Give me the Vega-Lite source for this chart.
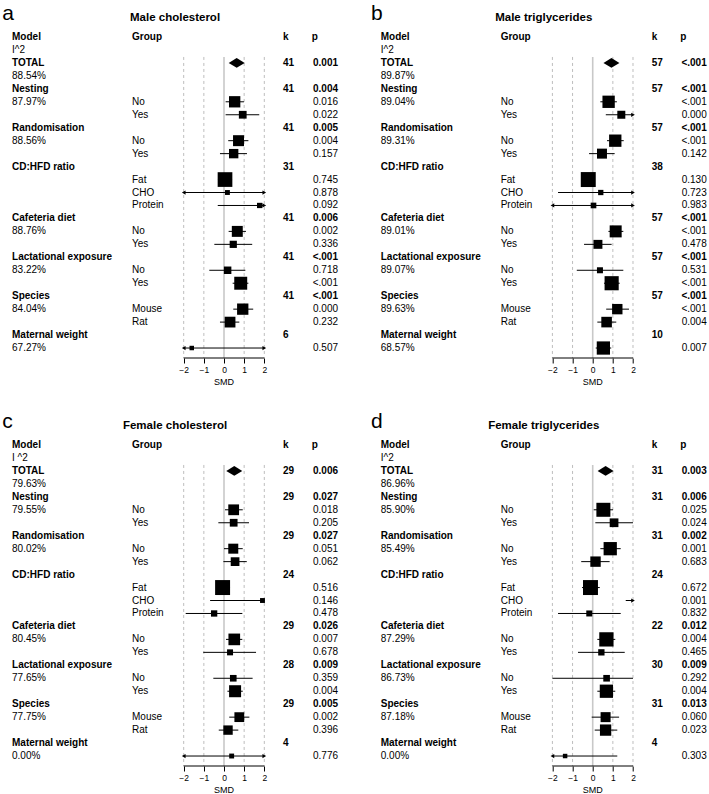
{
  "$schema": "https://vega.github.io/schema/vega-lite/v6.json",
  "padding": 0,
  "data": {"values": [
    {"panel":"a","type":"head","row":0,"model":"Model","group":"Group","k":"k","p":"p","letter":"a","title":"Male cholesterol"},
    {"panel":"a","type":"i2h","row":1,"i2":"I^2"},
    {"panel":"a","type":"total","row":2,"model":"TOTAL","k":"41","p":"0.001","est":0.63,"lo":0.21,"hi":1.04},
    {"panel":"a","type":"i2","row":3,"i2":"88.54%"},
    {"panel":"a","type":"mod","row":4,"model":"Nesting","k":"41","p":"0.004"},
    {"panel":"a","type":"level","row":5,"i2":"87.97%","group":"No","p":"0.016","est":0.53,"lo":0.08,"hi":0.99,"w":32},
    {"panel":"a","type":"level","row":6,"group":"Yes","p":"0.022","est":0.93,"lo":0.08,"hi":1.75,"w":15},
    {"panel":"a","type":"mod","row":7,"model":"Randomisation","k":"41","p":"0.005"},
    {"panel":"a","type":"level","row":8,"i2":"88.56%","group":"No","p":"0.004","est":0.72,"lo":0.21,"hi":1.21,"w":30},
    {"panel":"a","type":"level","row":9,"group":"Yes","p":"0.157","est":0.48,"lo":-0.2,"hi":1.14,"w":22},
    {"panel":"a","type":"mod","row":10,"model":"CD:HFD ratio","k":"31"},
    {"panel":"a","type":"level","row":11,"group":"Fat","p":"0.745","est":0.05,"lo":-0.3,"hi":0.4,"w":54},
    {"panel":"a","type":"level","row":12,"group":"CHO","p":"0.878","est":0.17,"lo":-2,"hi":2,"loOff":true,"hiOff":true,"w":6},
    {"panel":"a","type":"level","row":13,"group":"Protein","p":"0.092","est":1.77,"lo":-0.31,"hi":2,"hiOff":true,"w":7},
    {"panel":"a","type":"mod","row":14,"model":"Cafeteria diet","k":"41","p":"0.006"},
    {"panel":"a","type":"level","row":15,"i2":"88.76%","group":"No","p":"0.002","est":0.66,"lo":0.23,"hi":1.09,"w":30},
    {"panel":"a","type":"level","row":16,"group":"Yes","p":"0.336","est":0.46,"lo":-0.48,"hi":1.4,"w":13},
    {"panel":"a","type":"mod","row":17,"model":"Lactational exposure","k":"41","p":"<.001"},
    {"panel":"a","type":"level","row":18,"i2":"83.22%","group":"No","p":"0.718","est":0.18,"lo":-0.73,"hi":1.06,"w":14},
    {"panel":"a","type":"level","row":19,"group":"Yes","p":"<.001","est":0.83,"lo":0.43,"hi":1.21,"w":42},
    {"panel":"a","type":"mod","row":20,"model":"Species","k":"41","p":"<.001"},
    {"panel":"a","type":"level","row":21,"i2":"84.04%","group":"Mouse","p":"0.000","est":0.93,"lo":0.46,"hi":1.45,"w":32},
    {"panel":"a","type":"level","row":22,"group":"Rat","p":"0.232","est":0.3,"lo":-0.2,"hi":0.76,"w":29},
    {"panel":"a","type":"mod","row":23,"model":"Maternal weight","k":"6"},
    {"panel":"a","type":"level","row":24,"i2":"67.27%","p":"0.507","est":-1.6,"lo":-2,"hi":2,"loOff":true,"hiOff":true,"w":5},

    {"panel":"b","type":"head","row":0,"model":"Model","group":"Group","k":"k","p":"p","letter":"b","title":"Male triglycerides"},
    {"panel":"b","type":"i2h","row":1,"i2":"I^2"},
    {"panel":"b","type":"total","row":2,"model":"TOTAL","k":"57","p":"<.001","est":0.93,"lo":0.55,"hi":1.31},
    {"panel":"b","type":"i2","row":3,"i2":"89.87%"},
    {"panel":"b","type":"mod","row":4,"model":"Nesting","k":"57","p":"<.001"},
    {"panel":"b","type":"level","row":5,"i2":"89.04%","group":"No","p":"<.001","est":0.79,"lo":0.38,"hi":1.2,"w":38},
    {"panel":"b","type":"level","row":6,"group":"Yes","p":"0.000","est":1.42,"lo":0.65,"hi":2,"hiOff":true,"w":16},
    {"panel":"b","type":"mod","row":7,"model":"Randomisation","k":"57","p":"<.001"},
    {"panel":"b","type":"level","row":8,"i2":"89.31%","group":"No","p":"<.001","est":1.12,"lo":0.71,"hi":1.54,"w":38},
    {"panel":"b","type":"level","row":9,"group":"Yes","p":"0.142","est":0.46,"lo":-0.18,"hi":1.09,"w":25},
    {"panel":"b","type":"mod","row":10,"model":"CD:HFD ratio","k":"38"},
    {"panel":"b","type":"level","row":11,"group":"Fat","p":"0.130","est":-0.22,"lo":-0.5,"hi":0.1,"w":56},
    {"panel":"b","type":"level","row":12,"group":"CHO","p":"0.723","est":0.4,"lo":-1.72,"hi":2,"hiOff":true,"w":7},
    {"panel":"b","type":"level","row":13,"group":"Protein","p":"0.983","est":0.04,"lo":-2,"hi":2,"loOff":true,"hiOff":true,"w":8},
    {"panel":"b","type":"mod","row":14,"model":"Cafeteria diet","k":"57","p":"<.001"},
    {"panel":"b","type":"level","row":15,"i2":"89.01%","group":"No","p":"<.001","est":1.14,"lo":0.78,"hi":1.52,"w":36},
    {"panel":"b","type":"level","row":16,"group":"Yes","p":"0.478","est":0.26,"lo":-0.43,"hi":0.94,"w":20},
    {"panel":"b","type":"mod","row":17,"model":"Lactational exposure","k":"57","p":"<.001"},
    {"panel":"b","type":"level","row":18,"i2":"89.07%","group":"No","p":"0.531","est":0.36,"lo":-0.79,"hi":1.52,"w":9},
    {"panel":"b","type":"level","row":19,"group":"Yes","p":"<.001","est":0.94,"lo":0.56,"hi":1.34,"w":50},
    {"panel":"b","type":"mod","row":20,"model":"Species","k":"57","p":"<.001"},
    {"panel":"b","type":"level","row":21,"i2":"89.63%","group":"Mouse","p":"<.001","est":1.22,"lo":0.67,"hi":1.8,"w":27},
    {"panel":"b","type":"level","row":22,"group":"Rat","p":"0.004","est":0.69,"lo":0.23,"hi":1.17,"w":28},
    {"panel":"b","type":"mod","row":23,"model":"Maternal weight","k":"10"},
    {"panel":"b","type":"level","row":24,"i2":"68.57%","p":"0.007","est":0.53,"lo":0.15,"hi":0.92,"w":44},

    {"panel":"c","type":"head","row":0,"model":"Model","group":"Group","k":"k","p":"p","letter":"c","title":"Female cholesterol"},
    {"panel":"c","type":"i2h","row":1,"i2":"I ^2"},
    {"panel":"c","type":"total","row":2,"model":"TOTAL","k":"29","p":"0.006","est":0.51,"lo":0.13,"hi":0.88},
    {"panel":"c","type":"i2","row":3,"i2":"79.63%"},
    {"panel":"c","type":"mod","row":4,"model":"Nesting","k":"29","p":"0.027"},
    {"panel":"c","type":"level","row":5,"i2":"79.55%","group":"No","p":"0.018","est":0.48,"lo":0.05,"hi":0.93,"w":29},
    {"panel":"c","type":"level","row":6,"group":"Yes","p":"0.205","est":0.48,"lo":-0.28,"hi":1.24,"w":15},
    {"panel":"c","type":"mod","row":7,"model":"Randomisation","k":"29","p":"0.027"},
    {"panel":"c","type":"level","row":8,"i2":"80.02%","group":"No","p":"0.051","est":0.46,"lo":0.0,"hi":0.93,"w":25},
    {"panel":"c","type":"level","row":9,"group":"Yes","p":"0.062","est":0.55,"lo":-0.03,"hi":1.13,"w":19},
    {"panel":"c","type":"mod","row":10,"model":"CD:HFD ratio","k":"24"},
    {"panel":"c","type":"level","row":11,"group":"Fat","p":"0.516","est":-0.07,"lo":-0.4,"hi":0.3,"w":56},
    {"panel":"c","type":"level","row":12,"group":"CHO","p":"0.146","est":1.91,"lo":-0.69,"hi":2,"w":6},
    {"panel":"c","type":"level","row":13,"group":"Protein","p":"0.478","est":-0.49,"lo":-1.9,"hi":0.91,"w":10},
    {"panel":"c","type":"mod","row":14,"model":"Cafeteria diet","k":"29","p":"0.026"},
    {"panel":"c","type":"level","row":15,"i2":"80.45%","group":"No","p":"0.007","est":0.51,"lo":0.1,"hi":0.91,"w":34},
    {"panel":"c","type":"level","row":16,"group":"Yes","p":"0.678","est":0.3,"lo":-1.03,"hi":1.59,"w":9},
    {"panel":"c","type":"mod","row":17,"model":"Lactational exposure","k":"28","p":"0.009"},
    {"panel":"c","type":"level","row":18,"i2":"77.65%","group":"No","p":"0.359","est":0.46,"lo":-0.53,"hi":1.42,"w":11},
    {"panel":"c","type":"level","row":19,"group":"Yes","p":"0.004","est":0.55,"lo":0.17,"hi":0.93,"w":36},
    {"panel":"c","type":"mod","row":20,"model":"Species","k":"29","p":"0.005"},
    {"panel":"c","type":"level","row":21,"i2":"77.75%","group":"Mouse","p":"0.002","est":0.76,"lo":0.26,"hi":1.26,"w":24},
    {"panel":"c","type":"level","row":22,"group":"Rat","p":"0.396","est":0.2,"lo":-0.26,"hi":0.71,"w":22},
    {"panel":"c","type":"mod","row":23,"model":"Maternal weight","k":"4"},
    {"panel":"c","type":"level","row":24,"i2":"0.00%","p":"0.776","est":0.38,"lo":-2,"hi":2,"loOff":true,"hiOff":true,"w":6},

    {"panel":"d","type":"head","row":0,"model":"Model","group":"Group","k":"k","p":"p","letter":"d","title":"Female triglycerides"},
    {"panel":"d","type":"i2h","row":1,"i2":"I^2"},
    {"panel":"d","type":"total","row":2,"model":"TOTAL","k":"31","p":"0.003","est":0.64,"lo":0.21,"hi":1.06},
    {"panel":"d","type":"i2","row":3,"i2":"86.96%"},
    {"panel":"d","type":"mod","row":4,"model":"Nesting","k":"31","p":"0.006"},
    {"panel":"d","type":"level","row":5,"i2":"85.90%","group":"No","p":"0.025","est":0.53,"lo":0.05,"hi":1.01,"w":49},
    {"panel":"d","type":"level","row":6,"group":"Yes","p":"0.024","est":1.06,"lo":0.13,"hi":2.0,"w":19},
    {"panel":"d","type":"mod","row":7,"model":"Randomisation","k":"31","p":"0.002"},
    {"panel":"d","type":"level","row":8,"i2":"85.49%","group":"No","p":"0.001","est":0.87,"lo":0.38,"hi":1.39,"w":44},
    {"panel":"d","type":"level","row":9,"group":"Yes","p":"0.683","est":0.14,"lo":-0.57,"hi":0.84,"w":27},
    {"panel":"d","type":"mod","row":10,"model":"CD:HFD ratio","k":"24"},
    {"panel":"d","type":"level","row":11,"group":"Fat","p":"0.672","est":-0.11,"lo":-0.53,"hi":0.35,"w":56},
    {"panel":"d","type":"level","row":12,"group":"CHO","p":"0.001","lo":1.64,"hi":2,"hiOff":true},
    {"panel":"d","type":"level","row":13,"group":"Protein","p":"0.832","est":-0.17,"lo":-1.72,"hi":1.39,"w":9},
    {"panel":"d","type":"mod","row":14,"model":"Cafeteria diet","k":"22","p":"0.012"},
    {"panel":"d","type":"level","row":15,"i2":"87.29%","group":"No","p":"0.004","est":0.68,"lo":0.23,"hi":1.12,"w":51},
    {"panel":"d","type":"level","row":16,"group":"Yes","p":"0.465","est":0.43,"lo":-0.73,"hi":1.59,"w":10},
    {"panel":"d","type":"mod","row":17,"model":"Lactational exposure","k":"30","p":"0.009"},
    {"panel":"d","type":"level","row":18,"i2":"86.73%","group":"No","p":"0.292","est":0.69,"lo":-2,"hi":2,"w":11},
    {"panel":"d","type":"level","row":19,"group":"Yes","p":"0.004","est":0.68,"lo":0.23,"hi":1.12,"w":44},
    {"panel":"d","type":"mod","row":20,"model":"Species","k":"31","p":"0.013"},
    {"panel":"d","type":"level","row":21,"i2":"87.18%","group":"Mouse","p":"0.060","est":0.64,"lo":-0.05,"hi":1.31,"w":25},
    {"panel":"d","type":"level","row":22,"group":"Rat","p":"0.023","est":0.64,"lo":0.1,"hi":1.22,"w":32},
    {"panel":"d","type":"mod","row":23,"model":"Maternal weight","k":"4"},
    {"panel":"d","type":"level","row":24,"i2":"0.00%","p":"0.303","est":-1.37,"lo":-2,"hi":1.22,"loOff":true,"w":5},

    {"panel":"a","type":"grid","gx":-2},{"panel":"a","type":"grid","gx":-1},{"panel":"a","type":"grid","gx":0},{"panel":"a","type":"grid","gx":1},{"panel":"a","type":"grid","gx":2},
    {"panel":"b","type":"grid","gx":-2},{"panel":"b","type":"grid","gx":-1},{"panel":"b","type":"grid","gx":0},{"panel":"b","type":"grid","gx":1},{"panel":"b","type":"grid","gx":2},
    {"panel":"c","type":"grid","gx":-2},{"panel":"c","type":"grid","gx":-1},{"panel":"c","type":"grid","gx":0},{"panel":"c","type":"grid","gx":1},{"panel":"c","type":"grid","gx":2},
    {"panel":"d","type":"grid","gx":-2},{"panel":"d","type":"grid","gx":-1},{"panel":"d","type":"grid","gx":0},{"panel":"d","type":"grid","gx":1},{"panel":"d","type":"grid","gx":2}
  ]},
  "columns": 2,
  "spacing": {"row": 50, "column": 28.7},
  "bounds": "flush",
  "facet": {"field": "panel", "type": "nominal", "header": {"labels": false, "labelExpr": "''", "labelFontSize": 0, "labelPadding": 0, "title": null, "titlePadding": 0}},
  "resolve": {"axis": {"x": "independent", "y": "independent"}},
  "spec": {
    "width": 340,
    "height": 358,
    "layer": [
      {
        "transform": [{"filter": "datum.type === 'grid' && datum.gx !== 0"}],
        "mark": {"type": "rule", "strokeDash": [3, 3], "color": "#bdbdbd", "strokeWidth": 1},
        "encoding": {
          "x": {"field": "gx", "type": "quantitative", "title": null,
                "scale": {"domain": [-11.117, 5.757], "nice": false, "zero": false},
                "axis": {"values": [-2, -1, 0, 1, 2], "domain": false, "grid": false, "ticks": true, "tickSize": 5, "tickColor": "#000000", "tickWidth": 1, "labelFontSize": 8.5, "labelColor": "#000000", "labelPadding": 2, "labelFlush": false, "title": null}},
          "y": {"datum": 1.54, "type": "quantitative", "scale": {"domain": [-2.855, 24.77], "reverse": true, "nice": false, "zero": false}, "axis": null},
          "y2": {"datum": 24.77}
        }
      },
      {
        "transform": [{"filter": "datum.type === 'grid' && datum.gx === 0"}],
        "mark": {"type": "rule", "color": "#c8c8c8", "strokeWidth": 1.6},
        "encoding": {
          "x": {"field": "gx", "type": "quantitative", "title": null},
          "y": {"datum": 1.54, "type": "quantitative", "axis": null},
          "y2": {"datum": 24.77}
        }
      },
      {
        "transform": [{"filter": "datum.type === 'head'"}],
        "mark": {"type": "rule", "color": "#000000", "strokeWidth": 1},
        "encoding": {
          "x": {"datum": -2, "type": "quantitative", "title": null},
          "x2": {"datum": 2},
          "y": {"datum": 24.77, "type": "quantitative", "axis": null}
        }
      },
      {
        "transform": [{"filter": "datum.type === 'level' && isValid(datum.lo)"}],
        "mark": {"type": "rule", "color": "#000000", "strokeWidth": 1},
        "encoding": {
          "x": {"field": "lo", "type": "quantitative", "title": null},
          "x2": {"field": "hi"},
          "y": {"field": "row", "type": "quantitative", "axis": null}
        }
      },
      {
        "transform": [{"filter": "datum.hiOff === true"}],
        "mark": {"type": "point", "shape": "triangle-right", "filled": true, "color": "#000000", "opacity": 1, "size": 18, "strokeWidth": 0},
        "encoding": {
          "x": {"field": "hi", "type": "quantitative", "title": null},
          "y": {"field": "row", "type": "quantitative", "axis": null}
        }
      },
      {
        "transform": [{"filter": "datum.loOff === true"}],
        "mark": {"type": "point", "shape": "triangle-left", "filled": true, "color": "#000000", "opacity": 1, "size": 18, "strokeWidth": 0},
        "encoding": {
          "x": {"field": "lo", "type": "quantitative", "title": null},
          "y": {"field": "row", "type": "quantitative", "axis": null}
        }
      },
      {
        "transform": [{"filter": "datum.type === 'level' && isValid(datum.est)"}],
        "mark": {"type": "point", "shape": "square", "filled": true, "color": "#000000", "opacity": 1, "strokeWidth": 0},
        "encoding": {
          "x": {"field": "est", "type": "quantitative", "title": null},
          "y": {"field": "row", "type": "quantitative", "axis": null},
          "size": {"field": "w", "type": "quantitative", "scale": {"domain": [0, 100], "range": [0, 400]}, "legend": null}
        }
      },
      {
        "transform": [{"filter": "datum.type === 'total'"}],
        "mark": {"type": "point", "shape": "M-1,0L0,-0.6L1,0L0,0.6Z", "filled": true, "color": "#000000", "opacity": 1, "strokeWidth": 0, "size": 256},
        "encoding": {
          "x": {"field": "est", "type": "quantitative", "title": null},
          "y": {"field": "row", "type": "quantitative", "axis": null}
        }
      },
      {
        "transform": [{"filter": "isValid(datum.model)"}],
        "mark": {"type": "text", "align": "left", "baseline": "middle", "fontSize": 10, "fontWeight": "bold", "color": "#000000"},
        "encoding": {
          "x": {"datum": -10.52, "type": "quantitative", "title": null},
          "y": {"field": "row", "type": "quantitative", "axis": null},
          "text": {"field": "model"}
        }
      },
      {
        "transform": [{"filter": "isValid(datum.i2)"}],
        "mark": {"type": "text", "align": "left", "baseline": "middle", "fontSize": 10, "color": "#000000"},
        "encoding": {
          "x": {"datum": -10.52, "type": "quantitative", "title": null},
          "y": {"field": "row", "type": "quantitative", "axis": null},
          "text": {"field": "i2"}
        }
      },
      {
        "transform": [{"filter": "datum.type === 'head'"}],
        "mark": {"type": "text", "align": "left", "baseline": "middle", "fontSize": 10, "fontWeight": "bold", "color": "#000000"},
        "encoding": {
          "x": {"datum": -4.566, "type": "quantitative", "title": null},
          "y": {"field": "row", "type": "quantitative", "axis": null},
          "text": {"field": "group"}
        }
      },
      {
        "transform": [{"filter": "datum.type !== 'head' && isValid(datum.group)"}],
        "mark": {"type": "text", "align": "left", "baseline": "middle", "fontSize": 10, "color": "#000000"},
        "encoding": {
          "x": {"datum": -4.566, "type": "quantitative", "title": null},
          "y": {"field": "row", "type": "quantitative", "axis": null},
          "text": {"field": "group"}
        }
      },
      {
        "transform": [{"filter": "isValid(datum.k)"}],
        "mark": {"type": "text", "align": "left", "baseline": "middle", "fontSize": 10, "fontWeight": "bold", "color": "#000000"},
        "encoding": {
          "x": {"datum": 2.928, "type": "quantitative", "title": null},
          "y": {"field": "row", "type": "quantitative", "axis": null},
          "text": {"field": "k"}
        }
      },
      {
        "transform": [{"filter": "datum.type === 'head'"}],
        "mark": {"type": "text", "align": "left", "baseline": "middle", "fontSize": 10, "fontWeight": "bold", "color": "#000000"},
        "encoding": {
          "x": {"datum": 4.35, "type": "quantitative", "title": null},
          "y": {"field": "row", "type": "quantitative", "axis": null},
          "text": {"field": "p"}
        }
      },
      {
        "transform": [{"filter": "(datum.type === 'mod' || datum.type === 'total') && isValid(datum.p)"}],
        "mark": {"type": "text", "align": "right", "baseline": "middle", "fontSize": 10, "fontWeight": "bold", "color": "#000000"},
        "encoding": {
          "x": {"datum": 5.658, "type": "quantitative", "title": null},
          "y": {"field": "row", "type": "quantitative", "axis": null},
          "text": {"field": "p"}
        }
      },
      {
        "transform": [{"filter": "datum.type === 'level' && isValid(datum.p)"}],
        "mark": {"type": "text", "align": "right", "baseline": "middle", "fontSize": 10, "color": "#000000"},
        "encoding": {
          "x": {"datum": 5.658, "type": "quantitative", "title": null},
          "y": {"field": "row", "type": "quantitative", "axis": null},
          "text": {"field": "p"}
        }
      },
      {
        "transform": [{"filter": "datum.type === 'head'"}],
        "mark": {"type": "text", "align": "left", "baseline": "alphabetic", "fontSize": 21, "color": "#000000"},
        "encoding": {
          "x": {"datum": -11.0, "type": "quantitative", "title": null},
          "y": {"datum": -1.31, "type": "quantitative", "axis": null},
          "text": {"field": "letter"}
        }
      },
      {
        "transform": [{"filter": "datum.type === 'head'"}],
        "mark": {"type": "text", "align": "center", "baseline": "middle", "fontSize": 11.5, "fontWeight": "bold", "color": "#000000"},
        "encoding": {
          "x": {"datum": -2.43, "type": "quantitative", "title": null},
          "y": {"datum": -1.5, "type": "quantitative", "axis": null},
          "text": {"field": "title"}
        }
      },
      {
        "transform": [{"filter": "datum.type === 'head'"}],
        "mark": {"type": "text", "align": "center", "baseline": "middle", "fontSize": 9, "color": "#000000"},
        "encoding": {
          "x": {"datum": 0, "type": "quantitative", "title": null},
          "y": {"datum": 26.62, "type": "quantitative", "axis": null},
          "text": {"value": "SMD"}
        }
      }
    ]
  },
  "config": {
    "view": {"stroke": null},
    "font": "Liberation Sans",
    "header": {"labels": false, "labelExpr": "''", "labelFontSize": 0, "labelPadding": 0, "title": null, "titlePadding": 0}
  }
}
